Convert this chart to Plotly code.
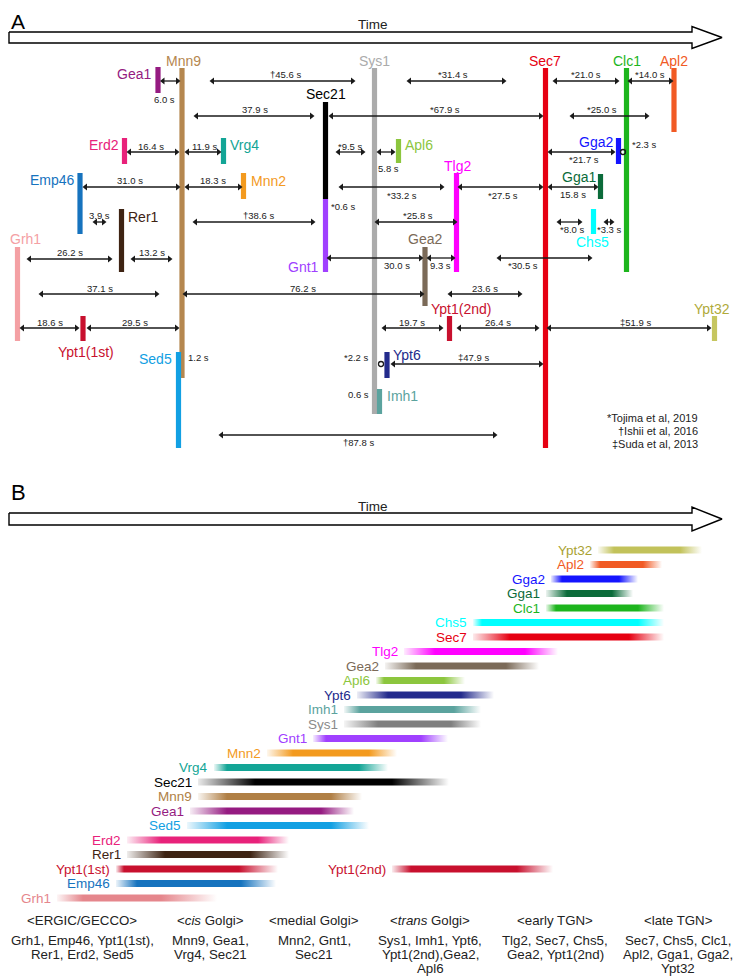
import plotly.graph_objects as go

W, H = 741, 976
OFF = 8  # default page body margin; axis ranges are shifted so page pixels match data units
FONT = "Liberation Sans, Arial, sans-serif"
TXT = "#222222"

# ---------------- colours ----------------
COL = {
    "Gea1": "#951B81", "Mnn9": "#B5874F", "Erd2": "#E8217A", "Vrg4": "#13A596",
    "Emp46": "#1673BE", "Mnn2": "#F39A1E", "Rer1": "#3E2313", "Grh1": "#F4A0A4",
    "Ypt1(1st)": "#C8102E", "Ypt1(2nd)": "#C8102E", "Sed5": "#12A0E3", "Sec21": "#000000",
    "Gnt1": "#A040FF", "Sys1": "#ABABAB", "Apl6": "#8CC63E", "Tlg2": "#FF00FF",
    "Gea2": "#7B6A58", "Ypt6": "#232B8C", "Imh1": "#5BA39E", "Sec7": "#E60012",
    "Clc1": "#1DB51D", "Apl2": "#F15A24", "Gga2": "#1414FF", "Gga1": "#0B6B3A",
    "Chs5": "#00FFFF", "Ypt32": "#C6C660",
}
COL_B = dict(COL, Sys1="#7F7F7F", Grh1="#E5868C", Mnn9="#B07F45", Ypt32="#C2C25A")
LAB_A = dict(COL, Ypt32="#B0AA3A")
LAB_B = dict(COL_B, Sys1="#8A8A8A", Ypt32="#A9A232")

# ---------------- Panel A data ----------------
A_names = ["Gea1", "Mnn9", "Erd2", "Vrg4", "Emp46", "Mnn2", "Rer1", "Grh1", "Ypt1(1st)", "Sed5",
           "Sec21", "Gnt1", "Sys1", "Apl6", "Tlg2", "Gea2", "Ypt1(2nd)", "Ypt6", "Imh1",
           "Sec7", "Clc1", "Apl2", "Gga2", "Gga1", "Chs5", "Ypt32"]
A_x = [158, 182, 124.5, 223.5, 80, 243.5, 121.5, 17.5, 83, 178.5,
       325.5, 325.5, 374.5, 398.5, 456.5, 425, 449.5, 387, 379.5,
       545.5, 626.5, 674, 618.5, 600.5, 593.5, 714.5]
A_top = [67, 68, 138, 138, 173, 173, 209, 247, 316, 352,
         102, 199, 68, 139, 173, 247, 316, 352, 389,
         68, 68, 68, 138, 174, 209, 316]
A_bot = [93, 378, 164, 164, 234, 199, 272, 341, 341, 448,
         199, 272, 414, 163, 272, 306, 341, 378, 414,
         448, 272, 132, 164, 199, 234, 341]

A_lab = {
    "Mnn9": (183, 61, "center"), "Gea1": (152, 74, "right"), "Erd2": (120, 145, "right"),
    "Vrg4": (229, 145, "left"), "Emp46": (76, 180, "right"), "Mnn2": (250, 181, "left"),
    "Rer1": (127, 217, "left"), "Grh1": (25, 239, "center"), "Ypt1(1st)": (86, 352, "center"),
    "Sed5": (173, 359, "right"), "Sec21": (326, 94, "center"), "Gnt1": (320, 267, "right"),
    "Sys1": (374, 61, "center"), "Apl6": (404, 145, "left"), "Tlg2": (457, 166, "center"),
    "Gea2": (425, 239, "center"), "Ypt1(2nd)": (461, 309, "center"), "Ypt6": (392, 355, "left"),
    "Imh1": (386, 396, "left"), "Sec7": (545, 61, "center"), "Clc1": (627, 61, "center"),
    "Apl2": (674, 61, "center"), "Gga2": (614, 142, "right"), "Gga1": (597, 177, "right"),
    "Chs5": (592, 242, "center"), "Ypt32": (712, 309, "center"),
}

# arrows: (x0, x1, y, label, label_x, label_y)
A_arrows = [
    (160.5, 180, 81, "6.0 s", 164, 99),
    (210, 355, 81, "†45.6 s", 285, 74),
    (407, 506, 81, "*31.4 s", 453, 74),
    (553, 619, 81, "*21.0 s", 586, 74),
    (628, 673, 81, "*14.0 s", 650, 74),
    (194, 314, 116, "37.9 s", 255, 109),
    (329, 543, 116, "*67.9 s", 445, 109),
    (570, 649, 116, "*25.0 s", 602, 109),
    (127, 179, 152, "16.4 s", 151, 146),
    (185, 221, 152, "11.9 s", 204, 146),
    (336, 365, 152, "*9.5 s", 350, 146),
    (377, 395, 152, "5.8 s", 388, 168),
    (548, 615, 152, "*21.7 s", 584, 159),
    (83, 180, 187, "31.0 s", 130, 180),
    (185, 242, 187, "18.3 s", 213, 180),
    (339, 444, 187, "*33.2 s", 402, 195),
    (458, 543, 187, "*27.5 s", 503, 195),
    (548, 598, 187, "15.8 s", 573, 194),
    (93, 106, 222, "3.9 s", 99, 215),
    (193, 315, 222, "†38.6 s", 258, 215),
    (375, 457, 222, "*25.8 s", 418, 215),
    (557, 582, 222, "*8.0 s", 572, 229),
    (604, 614, 222, "*3.3 s", 609, 229),
    (27, 112, 259, "26.2 s", 70, 252),
    (131, 172, 259, "13.2 s", 152, 252),
    (327, 423, 258, "30.0 s", 397, 265),
    (427, 455, 258, "9.3 s", 440, 265),
    (497, 592, 258, "*30.5 s", 523, 265),
    (39, 159, 294, "37.1 s", 100, 288),
    (183, 424, 294, "76.2 s", 303, 288),
    (448, 522, 294, "23.6 s", 485, 288),
    (20, 79, 328, "18.6 s", 50, 322),
    (87, 179, 328, "29.5 s", 135, 322),
    (382, 443, 328, "19.7 s", 412, 322),
    (457, 539, 328, "26.4 s", 498, 322),
    (547, 711, 328, "‡51.9 s", 635, 322),
    (391, 543, 364, "‡47.9 s", 473, 357),
    (219, 497, 435, "†87.8 s", 358, 442),
]
A_notes = [("*0.6 s", 330, 206, "left"), ("*2.3 s", 631, 144, "left"),
           ("1.2 s", 187, 357, "left"), ("*2.2 s", 370, 357, "right"),
           ("0.6 s", 370, 394, "right")]
A_dots_x = [623, 381]
A_dots_y = [152, 364]
REFS = ["*Tojima et al, 2019", "†Ishii et al, 2016", "‡Suda et al, 2013"]

# ---------------- Panel B data ----------------
B_names = ["Ypt32", "Apl2", "Gga2", "Gga1", "Clc1", "Chs5", "Sec7", "Tlg2", "Gea2", "Apl6",
           "Ypt6", "Imh1", "Sys1", "Gnt1", "Mnn2", "Vrg4", "Sec21", "Mnn9", "Gea1", "Sed5",
           "Erd2", "Rer1", "Ypt1(1st)", "Ypt1(2nd)", "Emp46", "Grh1"]
B_row = [0, 1, 2, 3, 4, 5, 6, 7, 8, 9, 10, 11, 12, 13, 14, 15, 16, 17, 18, 19, 20, 21, 22, 22, 23, 24]
B_start = [598, 590, 551, 546, 546, 473, 473, 404, 385, 376, 357, 344, 344, 313, 267, 214, 198, 198, 190, 187, 127, 127, 116, 392, 116, 57]
B_full = [614, 600, 562, 567, 556, 482, 510, 435, 416, 384, 388, 360, 378, 326, 293, 227, 255, 227, 227, 227, 161, 165, 124, 411, 137, 83]
B_fade = [680, 643, 619, 612, 638, 638, 629, 525, 506, 444, 461, 454, 451, 421, 369, 359, 392, 331, 321, 331, 258, 250, 239, 517, 241, 161]
B_end = [702, 662, 638, 633, 664, 664, 664, 558, 539, 465, 494, 481, 481, 448, 397, 388, 449, 362, 354, 369, 289, 289, 278, 553, 276, 217]
B_ROW0, B_STEP, B_HALF = 550, 14.5, 3.6

COMP_X = [82, 210, 314, 430, 555, 678]
COMP_LINES = [
    ["&lt;ERGIC/GECCO&gt;", "Grh1, Emp46, Ypt1(1st),", "Rer1, Erd2, Sed5"],
    ["&lt;<i>cis</i> Golgi&gt;", "Mnn9, Gea1,", "Vrg4, Sec21"],
    ["&lt;medial Golgi&gt;", "Mnn2, Gnt1,", "Sec21"],
    ["&lt;<i>trans</i> Golgi&gt;", "Sys1, Imh1, Ypt6,", "Ypt1(2nd),Gea2,", "Apl6"],
    ["&lt;early TGN&gt;", "Tlg2, Sec7, Chs5,", "Gea2, Ypt1(2nd)"],
    ["&lt;late TGN&gt;", "Sec7, Chs5, Clc1,", "Apl2, Gga1, Gga2,", "Ypt32"],
]
COMP_Y = [920, 940, 954.5, 968]

fig = go.Figure()
ann = []


def text(t, x, y, size, color=TXT, anchor="center"):
    ann.append(dict(text=t, x=x, y=y, xref="x", yref="y", showarrow=False,
                    xanchor=anchor, yanchor="middle", borderpad=0,
                    font=dict(family=FONT, size=size, color=color)))


# time arrows (panel A and B)
for yb, yt in [(32, 43), (513, 525)]:
    ym = (yb + yt) / 2
    hh = (yt - yb) * 0.95 + 0.5
    xs = [9, 692, 692, 722, 692, 692, 9, 9]
    ys = [yb, yb, ym - hh, ym, ym + hh, yt, yt, yb]
    fig.add_trace(go.Scatter(x=xs, y=ys, mode="lines", fill="toself", fillcolor="white",
                             line=dict(color="black", width=1.4), hoverinfo="skip"))
text("Time", 373, 24, 13.5)
text("Time", 373, 506, 13.5)
text("A", 18, 21, 21, "black")
text("B", 18, 492, 22, "black")

# panel A bars
for n, x, t, b in zip(A_names, A_x, A_top, A_bot):
    fig.add_trace(go.Scatter(x=[x, x], y=[t, b], mode="lines",
                             line=dict(color=COL[n], width=5.2), hoverinfo="skip"))
    lx, ly, la = A_lab[n]
    text(n, lx, ly, 14, LAB_A[n], la)

# panel A arrows
lx, ly, hlx, hly, hrx, hry = [], [], [], [], [], []
for x0, x1, y, lab, tx, ty in A_arrows:
    lx += [x0 + 1, x1 - 1, None]
    ly += [y, y, None]
    hlx.append(x0 + 2.5); hly.append(y)
    hrx.append(x1 - 2.5); hry.append(y)
    text(lab, tx, ty, 9.5)
fig.add_trace(go.Scatter(x=lx, y=ly, mode="lines", line=dict(color="#1a1a1a", width=1.3),
                         hoverinfo="skip"))
fig.add_trace(go.Scatter(x=hlx, y=hly, mode="markers", hoverinfo="skip",
                         marker=dict(symbol="triangle-left", size=6, color="#1a1a1a")))
fig.add_trace(go.Scatter(x=hrx, y=hry, mode="markers", hoverinfo="skip",
                         marker=dict(symbol="triangle-right", size=6, color="#1a1a1a")))
fig.add_trace(go.Scatter(x=A_dots_x, y=A_dots_y, mode="markers", hoverinfo="skip",
                         marker=dict(symbol="circle-open", size=5, color="#1a1a1a",
                                     line=dict(width=1.3))))
for t, x, y, a in A_notes:
    text(t, x, y, 9.5, TXT, a)
for i, r in enumerate(REFS):
    text(r, 699, 418 + 13 * i, 11, TXT, "right")


# panel B bars with gradients
def rgba(hexc, a):
    h = hexc.lstrip("#")
    r, g, b = int(h[0:2], 16), int(h[2:4], 16), int(h[4:6], 16)
    return f"rgba({r},{g},{b},{a})"


for n, r, s, f, d, e in zip(B_names, B_row, B_start, B_full, B_fade, B_end):
    yc = B_ROW0 + B_STEP * r
    c = COL_B[n]
    span = e - s
    p1 = (f - s) / span
    p2 = (d - s) / span
    fig.add_trace(go.Scatter(
        x=[s, e, e, s, s], y=[yc - B_HALF, yc - B_HALF, yc + B_HALF, yc + B_HALF, yc - B_HALF],
        mode="lines", line=dict(width=0, color="rgba(0,0,0,0)"), fill="toself",
        fillgradient=dict(type="horizontal", start=s, stop=e,
                          colorscale=[[0, rgba(c, 0.08)], [p1, rgba(c, 1)],
                                      [p2, rgba(c, 1)], [1, rgba(c, 0.0)]]),
        hoverinfo="skip"))
    text(n, s - 5, yc, 13.5, LAB_B[n], "right")

for cx, lines in zip(COMP_X, COMP_LINES):
    for j, t in enumerate(lines):
        text(t, cx, COMP_Y[j], 13.3, TXT)

fig.update_layout(
    width=W, height=H, margin=dict(l=0, r=0, t=0, b=0),
    paper_bgcolor="white", plot_bgcolor="white", showlegend=False,
    xaxis=dict(range=[OFF, W + OFF], visible=False, fixedrange=True),
    yaxis=dict(range=[H + OFF, OFF], visible=False, fixedrange=True),
    annotations=ann,
)
fig.write_html("out.html")
